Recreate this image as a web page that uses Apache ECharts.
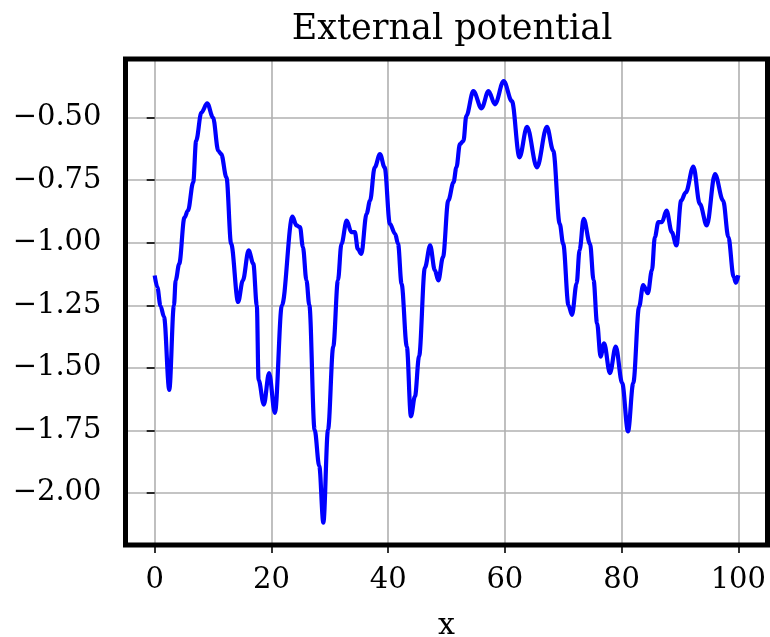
<!DOCTYPE html>
<html>
<head>
<meta charset="utf-8">
<script src="https://cdn.jsdelivr.net/npm/echarts@6/dist/echarts.min.js"></script>
<style>
  html, body { margin: 0; padding: 0; background: #fff; }
  #chart { width: 770px; height: 637px; }
</style>
</head>
<body>
<div id="chart"></div>
<script>
// Position along the domain
const xs = [
  0.0, 0.45, 1.0, 1.6, 2.5, 3.3, 3.6, 4.2, 5.1, 5.7, 6.6, 7.1, 8.0, 9.0, 10.0,
  10.9, 11.4, 12.3, 13.1, 14.3, 15.1, 16.1, 16.9, 17.5, 17.8, 18.7, 19.6, 20.6,
  21.8, 23.6, 24.3, 24.9, 25.4, 26.0, 26.5, 27.4, 28.2, 28.9, 29.7, 30.6, 31.4,
  32.0, 32.9, 33.7, 34.3, 34.8, 35.4, 36.3, 36.9, 37.7, 38.6, 39.4, 40.3, 41.2,
  41.7, 42.3, 43.2, 43.9, 44.6, 45.3, 46.3, 47.2, 48.0, 48.6, 49.4, 50.3, 51.2,
  51.7, 52.3, 52.9, 53.4, 54.6, 56.0, 57.2, 58.3, 59.8, 61.2, 62.5, 63.8, 65.5,
  67.2, 68.3, 69.4, 70.0, 70.9, 71.5, 72.3, 72.8, 73.5, 74.6, 75.2, 75.8, 76.4,
  77.0, 78.0, 79.0, 80.1, 81.1, 82.0, 83.0, 83.7, 84.5, 85.2, 85.7, 86.3, 86.9,
  87.7, 88.6, 89.4, 90.2, 91.0, 92.3, 93.4, 94.6, 96.0, 97.4, 98.3, 99.2, 99.6,
  100.0
];
// Potential value at each position
const potential = [
  -1.131, -1.177, -1.253, -1.296, -1.588, -1.25, -1.15, -1.085, -0.90, -0.872,
  -0.759, -0.593, -0.48, -0.443, -0.50, -0.633, -0.646, -0.739, -1.005, -1.237,
  -1.151, -1.031, -1.084, -1.25, -1.548, -1.647, -1.521, -1.68, -1.25, -0.896,
  -0.931, -0.938, -1.018, -1.15, -1.25, -1.747, -1.893, -2.119, -1.747, -1.415,
  -1.15, -1.005, -0.912, -0.958, -0.958, -1.025, -1.045, -0.885, -0.832, -0.699,
  -0.646, -0.699, -0.925, -0.965, -1.005, -1.164, -1.415, -1.694, -1.614, -1.455,
  -1.10, -1.011, -1.11, -1.151, -1.058, -0.832, -0.759, -0.699, -0.606, -0.593,
  -0.493, -0.394, -0.463, -0.394, -0.447, -0.354, -0.434, -0.659, -0.537, -0.699,
  -0.537, -0.633, -0.925, -1.005, -1.25, -1.289, -1.162, -1.03, -0.905, -1.005,
  -1.15, -1.322, -1.455, -1.402, -1.521, -1.415, -1.561, -1.754, -1.561, -1.256,
  -1.169, -1.202, -1.11, -0.978, -0.918, -0.918, -0.872, -0.958, -1.011, -0.832,
  -0.799, -0.696, -0.845, -0.931, -0.726, -0.832, -0.978, -1.137, -1.16, -1.13
];
const xTicks = [0, 20, 40, 60, 80, 100];
const yTicks = [-2.00, -1.75, -1.50, -1.25, -1.00, -0.75, -0.50];

const FONT = '"DejaVu Serif", serif';
const minus = s => s.replace('-', '\u2212');

const chart = echarts.init(document.getElementById('chart'), null, { renderer: 'canvas' });
chart.setOption({
  animation: false,
  backgroundColor: '#fff',
  title: {
    text: 'External potential',
    left: 447,
    textAlign: 'center',
    top: 7,
    textStyle: { fontFamily: FONT, fontSize: 35, fontWeight: 'normal', color: '#000' }
  },
  grid: {
    left: 125.5, right: 2.5, top: 59, bottom: 92,
    outerBoundsMode: 'none',
    containLabel: false,
    show: true, borderColor: '#000', borderWidth: 5, backgroundColor: 'transparent',
    z: 10
  },
  xAxis: {
    type: 'value',
    min: -5, max: 105,
    name: 'x',
    nameLocation: 'middle',
    nameGap: 66,
    nameTextStyle: { fontFamily: FONT, fontSize: 30, color: '#000' },
    axisLine: { show: false },
    axisTick: { show: true, length: 8, lineStyle: { color: '#000', width: 1.6 }, customValues: xTicks },
    axisLabel: {
      customValues: xTicks, margin: 21,
      fontFamily: FONT, fontSize: 29, color: '#000',
      formatter: v => minus(String(Math.round(v)))
    },
    splitLine: { show: true, lineStyle: { color: '#b0b0b0', width: 1.6 } }
  },
  yAxis: {
    type: 'value',
    min: -2.208, max: -0.266,
    axisLine: { show: false },
    axisTick: { show: true, length: 8, lineStyle: { color: '#000', width: 1.6 }, customValues: yTicks },
    axisLabel: {
      customValues: yTicks, margin: 24,
      fontFamily: FONT, fontSize: 29, color: '#000',
      formatter: v => minus(v.toFixed(2))
    },
    splitLine: { show: true, lineStyle: { color: '#b0b0b0', width: 1.6 } }
  },
  series: [{
    type: 'line',
    data: xs.map((x, i) => [x, potential[i]]),
    showSymbol: false,
    smooth: 0.35,
    smoothMonotone: 'x',
    lineStyle: { color: '#0000ff', width: 4.2 },
    z: 3
  }]
});
</script>
</body>
</html>
